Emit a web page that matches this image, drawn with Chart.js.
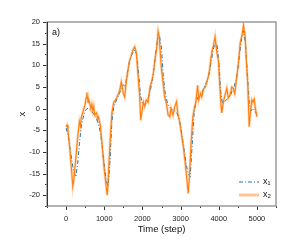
<!DOCTYPE html>
<html><head><meta charset="utf-8">
<script src="https://cdn.jsdelivr.net/npm/chart.js@4.4.1/dist/chart.umd.min.js"></script>
<style>html,body{margin:0;padding:0;background:#fff}#wrap{width:294px;height:252px}</style>
</head><body><div id="wrap"><canvas id="c" width="294" height="252"></canvas></div>
<script>
const panelLabel = "a)";
const xTitle = "Time (step)";
const yTitle = "x";
const seriesNames = ["x\u2081", "x\u2082"];
const xTickLabels = [0, 1000, 2000, 3000, 4000, 5000];
const yTickLabels = [-20, -15, -10, -5, 0, 5, 10, 15, 20];

const x1Steps = [0,50,100,150,200,250,300,350,400,450,500,550,600,650,700,750,800,850,900,950,1000,1050,1100,1150,1200,1250,1300,1350,1400,1450,1500,1550,1600,1650,1700,1750,1800,1850,1900,1950,2000,2050,2100,2150,2200,2250,2300,2350,2400,2450,2500,2550,2600,2650,2700,2750,2800,2850,2900,2950,3000,3050,3100,3150,3200,3250,3300,3350,3400,3450,3500,3550,3600,3650,3700,3750,3800,3850,3900,3950,4000,4050,4100,4150,4200,4250,4300,4350,4400,4450,4500,4550,4600,4650,4700,4750,4800,4850,4900,4950,5000];
const x1Values = [-4.5,-6,-9,-12,-14.5,-15.8,-13,-8,-4,-2,-0.5,0,0,-0.5,-1,-1.5,-2.5,-3.5,-5.5,-9,-13,-16.5,-18,-12,-3,0.5,1.5,2.5,3.5,5,5.5,5,8,10.5,12,13,13.5,12.5,8,3,1,0.8,1.2,2.5,4,6,9,13,16,16.6,14,7,3.5,1.5,0.5,0,-0.5,-0.5,-1,-2,-4,-7,-10,-13,-15,-15.8,-9,-1.5,1.5,2.5,3,3.5,4.5,5.5,6.5,8,11,13.5,15,15,11,4,1,1.5,2,2.5,3,4,5,6.5,9,13,16.5,18,15,8,1,-0.5,0,-0.5,-1.5];

const x2Steps = [0,25,50,100,150,175,200,250,300,350,375,400,450,500,525,543,575,600,650,675,700,725,750,800,825,850,900,950,1000,1050,1078,1100,1150,1200,1250,1300,1350,1400,1447,1500,1534,1575,1625,1666,1700,1750,1797,1842,1900,1929,1955,2000,2025,2060,2100,2148,2200,2250,2279,2325,2375,2411,2440,2475,2500,2542,2575,2632,2675,2718,2750,2800,2850,2895,2925,2950,2982,3025,3075,3113,3150,3200,3230,3275,3320,3358,3400,3447,3475,3520,3553,3600,3650,3700,3726,3760,3800,3816,3860,3903,3950,3990,4030,4060,4079,4120,4160,4211,4250,4297,4340,4380,4420,4474,4520,4561,4610,4649,4692,4730,4763,4797,4830,4868,4895,4930,4960,5000];
const x2Values = [-4.2,-3.8,-5,-9.5,-15,-18,-16.5,-12,-7,-3,-4,-2,-0.5,1,2.5,3.7,1.5,2,0,1,-0.5,0.5,-1.5,-1,-2.5,-2,-4,-9,-14,-18,-20,-17,-8,-1,1.5,2,3,4,6.2,3.5,2.7,6,9,11.2,12,13.5,14.3,12.8,6,2.7,-2.7,0,1.5,0.5,2,1.5,5,6.5,7.7,11,14,17.8,16.5,12,9,6,3,1,-1.5,-1.9,0,-1.5,0.5,1.6,-1,-2,-3.4,-6,-9,-11.9,-15,-19.6,-16,-8,-2,0,1.5,5.4,2,3.5,2.7,4.5,5,6.5,7.4,9,12,13.1,14.5,16.6,13,11.2,5,0.5,-1,1.5,3,4.7,2.5,3.1,5,4.7,3.5,7.4,11,15.1,17,19.3,16.6,10,5,-4.2,-1,2,1.5,2.2,0,-1.9];

const x1Data = x1Steps.map((t,i)=>({x:t,y:x1Values[i]}));
const x2Data = x2Steps.map((t,i)=>({x:t,y:x2Values[i]}));

const BLUE = '#1f77b4', ORANGE = '#ff7f0e', AXIS = '#9a9a9a';
const FONT = "'Liberation Sans', Arial, sans-serif";

const framePlugin = {
  id: 'frame',
  afterDraw(chart) {
    const {ctx, chartArea: a, scales} = chart;
    ctx.save();
    ctx.strokeStyle = '#333'; ctx.lineWidth = 1;
    const xs = scales.x, ys = scales.y;
    for (let v = -500; v <= 5500; v += 500) {
      const px = Math.round(xs.getPixelForValue(v)) + 0.5;
      const len = (v % 1000 === 0) ? 4 : 2;
      ctx.beginPath(); ctx.moveTo(px, a.bottom); ctx.lineTo(px, a.bottom + len); ctx.stroke();
    }
    for (let v = -22.5; v <= 20; v += 2.5) {
      const py = Math.round(ys.getPixelForValue(v)) + 0.5;
      const len = (v % 5 === 0) ? 4 : 2;
      ctx.beginPath(); ctx.moveTo(a.left, py); ctx.lineTo(a.left - len, py); ctx.stroke();
    }
    ctx.strokeStyle = AXIS; ctx.lineWidth = 1.5;
    ctx.strokeRect(a.left, a.top, a.right - a.left, a.bottom - a.top);
    ctx.strokeStyle = '#333'; ctx.lineWidth = 1;
    ctx.beginPath(); ctx.moveTo(a.left + 0.5, a.top); ctx.lineTo(a.left + 0.5, a.bottom); ctx.stroke();
    ctx.fillStyle = '#111'; ctx.font = '9px ' + FONT;
    ctx.textAlign = 'left'; ctx.textBaseline = 'middle';
    ctx.fillText(panelLabel, a.left + 5, a.top + 11);
    const lx = 239, lx2 = 259;
    ctx.setLineDash([4,2,1,2]); ctx.strokeStyle = BLUE; ctx.lineWidth = 1;
    ctx.beginPath(); ctx.moveTo(lx, 182); ctx.lineTo(lx2, 182); ctx.stroke();
    ctx.setLineDash([]);
    ctx.strokeStyle = 'rgba(255,127,14,0.45)'; ctx.lineWidth = 3;
    ctx.beginPath(); ctx.moveTo(lx, 195); ctx.lineTo(lx2, 195); ctx.stroke();
    ctx.fillStyle = '#111'; ctx.font = '9px ' + FONT;
    ctx.fillText(seriesNames[0], 263, 182);
    ctx.fillText(seriesNames[1], 263, 195);
    ctx.restore();
  }
};

new Chart(document.getElementById('c'), {
  type: 'line',
  data: {
    datasets: [
      {label: seriesNames[1], data: x2Data, borderColor: ORANGE, borderWidth: 1.1, pointRadius: 0, tension: 0, order: 0},
      {label: seriesNames[1] + ' halo', data: x2Data, borderColor: 'rgba(255,127,14,0.3)', borderWidth: 2.6, pointRadius: 0, tension: 0, order: 2},
      {label: seriesNames[0], data: x1Data, borderColor: BLUE, borderWidth: 1, borderDash: [4,2,1,2], pointRadius: 0, tension: 0, order: 1}
    ]
  },
  options: {
    responsive: false, animation: false, devicePixelRatio: 1,
    layout: {padding: {left: 0, top: 22, right: 18, bottom: 0}},
    plugins: {legend: {display: false}, tooltip: {enabled: false}},
    scales: {
      x: {
        type: 'linear', min: -500, max: 5500,
        afterFit(s) { s.height = 46; },
        afterBuildTicks(s) { s.ticks = xTickLabels.map(v => ({value: v})); },
        grid: {display: false, drawTicks: false, tickLength: 0},
        border: {display: false},
        ticks: {font: {size: 7.5, family: FONT}, color: '#222', padding: 8, maxRotation: 0, autoSkip: false, callback: v => String(v)},
        title: {display: true, text: xTitle, font: {size: 9.5, family: FONT}, color: '#111', padding: {top: 0, bottom: 17}}
      },
      y: {
        min: -22.5, max: 20,
        afterFit(s) { s.width = 47; },
        afterBuildTicks(s) { s.ticks = yTickLabels.map(v => ({value: v})); },
        grid: {display: false, drawTicks: false, tickLength: 0},
        border: {display: false},
        ticks: {font: {size: 7.5, family: FONT}, color: '#222', padding: 7, callback: v => String(v)},
        title: {display: true, text: yTitle, font: {size: 9.5, family: FONT}, color: '#111', padding: {top: 17, bottom: 0}}
      }
    }
  },
  plugins: [framePlugin]
});
</script></body></html>
